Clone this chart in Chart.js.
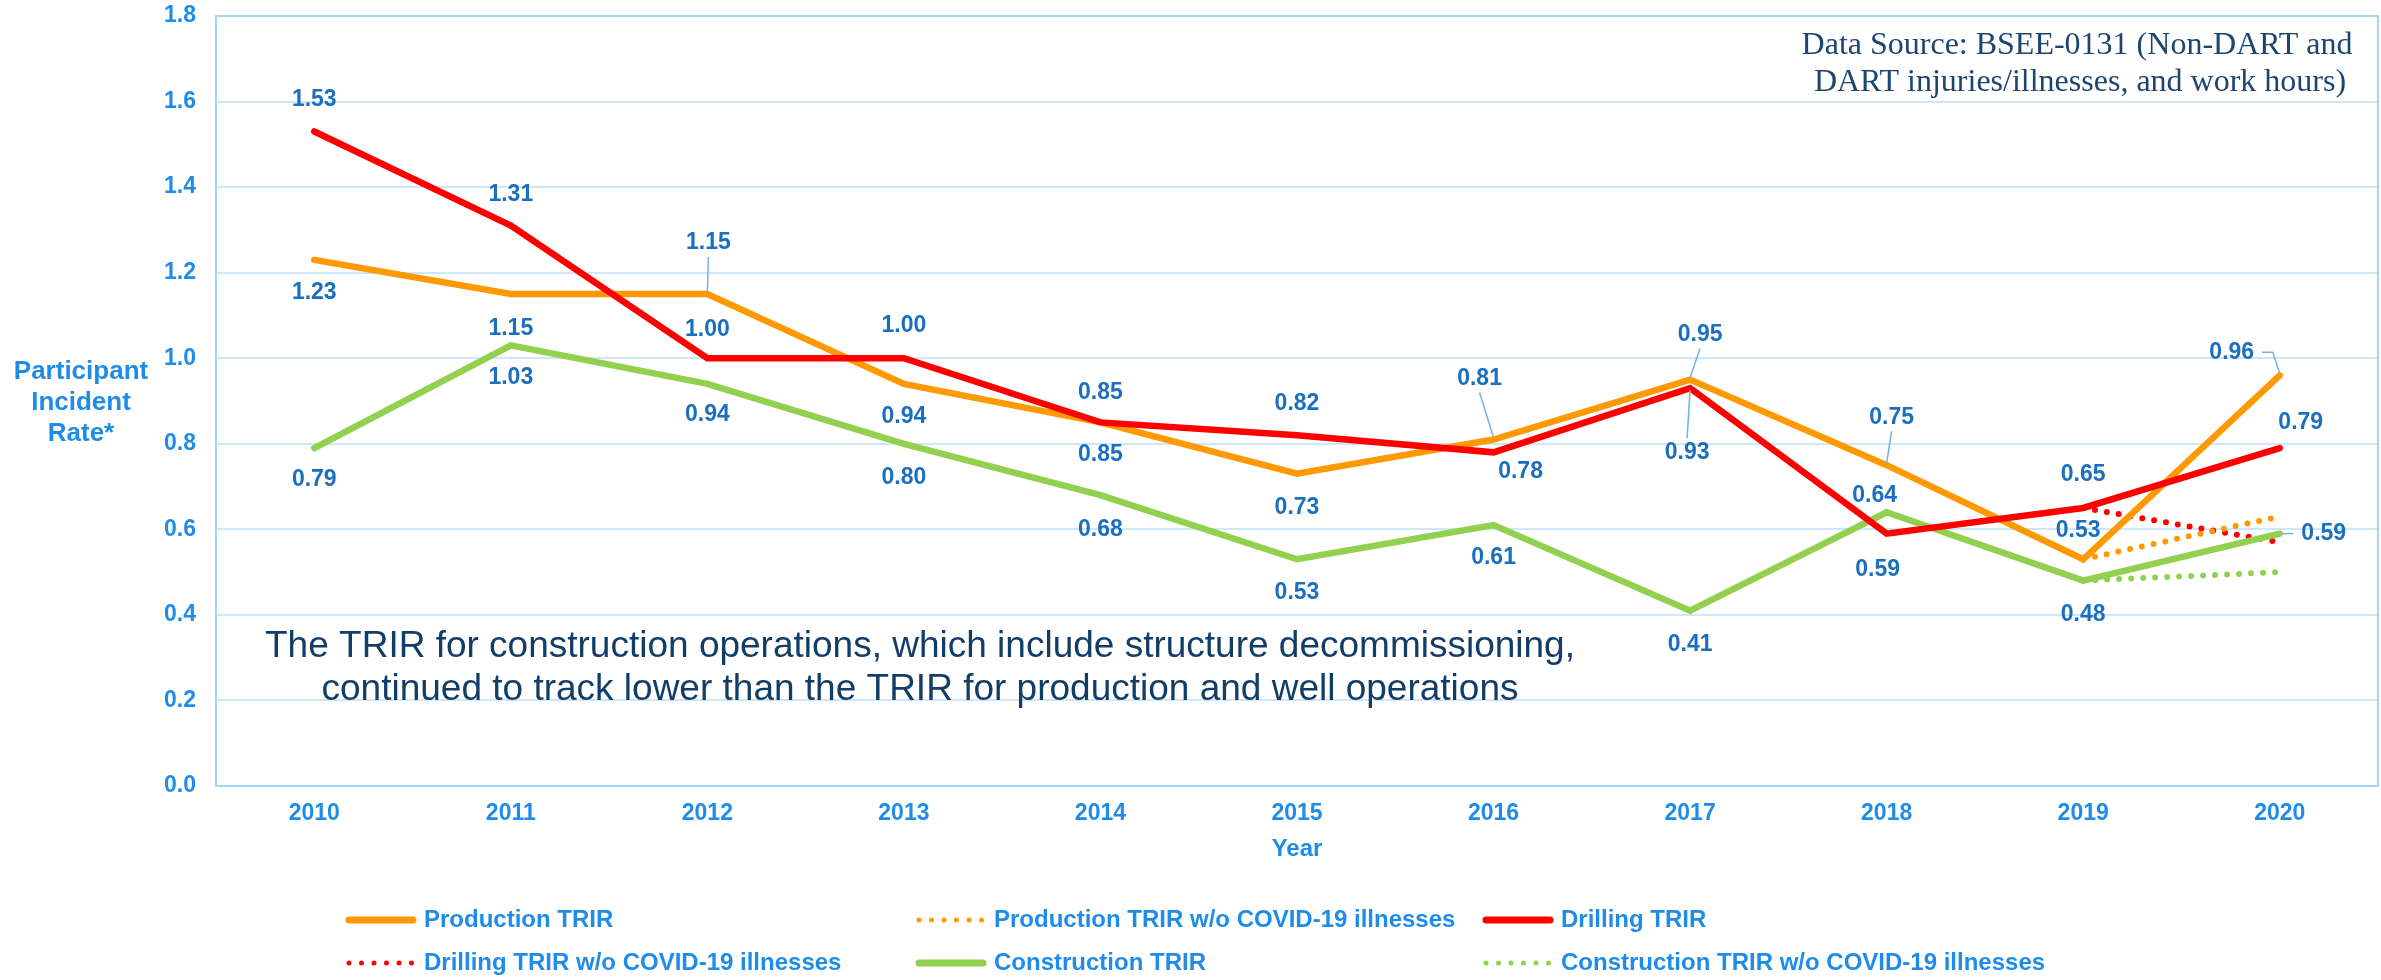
<!DOCTYPE html>
<html>
<head>
<meta charset="utf-8">
<title>TRIR by operation type, 2010-2020</title>
<script src="https://cdn.jsdelivr.net/npm/chart.js@4.4.1/dist/chart.umd.min.js"></script>
<style>
  html, body { margin: 0; padding: 0; background: #fff; }
  #wrap { width: 2381px; height: 980px; }
</style>
</head>
<body>
<div id="wrap"><canvas id="trirChart" width="2381" height="980"></canvas></div>
<script>
// values
const years = ['2010', '2011', '2012', '2013', '2014', '2015', '2016', '2017', '2018', '2019', '2020'];
const productionTrir = [1.23, 1.15, 1.15, 0.94, 0.85, 0.73, 0.81, 0.95, 0.75, 0.53, 0.96];
const productionNoCovid = [null, null, null, null, null, null, null, null, null, 0.53, 0.63];
const drillingTrir = [1.53, 1.31, 1.00, 1.00, 0.85, 0.82, 0.78, 0.93, 0.59, 0.65, 0.79];
const drillingNoCovid = [null, null, null, null, null, null, null, null, null, 0.65, 0.57];
const constructionTrir = [0.79, 1.03, 0.94, 0.80, 0.68, 0.53, 0.61, 0.41, 0.64, 0.48, 0.59];
const constructionNoCovid = [null, null, null, null, null, null, null, null, null, 0.48, 0.50];
const yTicks = [0, 0.2, 0.4, 0.6, 0.8, 1.0, 1.2, 1.4, 1.6, 1.8];

const ORANGE = '#FF9900';
const RED = '#FF0000';
const GREEN = '#92D050';
const AXIS_BLUE = '#1e8ce8';
const LABEL_BLUE = '#1a6fc0';

// where each value label sits relative to its point (px), and leader line type
const labelLayout = {
  0: {
    pos: [[0, 33], [0, 35], [1, -51], [0, 33], [0, 32], [0, 34], [-14, -61], [10, -45], [5, -48], [-5, -29], [-48, -23]],
    lead: [null, null, 'v', null, null, null, 'v', 'v', 'v', null, 'elbow']
  },
  2: {
    pos: [[0, -32], [0, -31], [0, -29], [0, -33], [0, -30], [0, -32], [27, 19], [-3, 64], [-9, 36], [0, -33], [21, -25]],
    lead: [null, null, null, null, null, null, null, 'v', null, null, null]
  },
  4: {
    pos: [[0, 32], [0, 32], [0, 31], [0, 34], [0, 35], [0, 33], [0, 33], [0, 34], [-12, -17], [0, 34], [44, 0]],
    lead: [null, null, null, null, null, null, null, null, null, null, 'h']
  }
};

const valueLabels = {
  id: 'valueLabels',
  afterDatasetsDraw(chart) {
    const ctx = chart.ctx;
    ctx.save();
    ctx.font = 'bold 23px "Liberation Sans", Arial, sans-serif';
    ctx.textAlign = 'center';
    ctx.textBaseline = 'middle';
    Object.keys(labelLayout).forEach(key => {
      const i = Number(key);
      const layout = labelLayout[i];
      const meta = chart.getDatasetMeta(i);
      const values = chart.data.datasets[i].data;
      meta.data.forEach((pt, j) => {
        if (values[j] == null) return;
        const dx = layout.pos[j][0], dy = layout.pos[j][1];
        const cx = pt.x + dx, cy = pt.y + dy;
        const text = values[j].toFixed(2);
        const w = ctx.measureText(text).width;
        const lead = layout.lead[j];
        if (lead) {
          ctx.strokeStyle = '#6fb3ec';
          ctx.lineWidth = 1.5;
          ctx.beginPath();
          if (lead === 'v') {
            ctx.moveTo(cx, cy + (dy < 0 ? 14 : -14));
            ctx.lineTo(pt.x, pt.y + (dy < 0 ? -2 : 2));
          } else if (lead === 'elbow') {
            ctx.moveTo(cx + w / 2 + 8, cy);
            ctx.lineTo(pt.x - 7, cy);
            ctx.lineTo(pt.x, pt.y - 2);
          } else if (lead === 'h') {
            ctx.moveTo(cx - w / 2 - 8, cy);
            ctx.lineTo(pt.x + 2, pt.y);
          }
          ctx.stroke();
        }
        ctx.fillStyle = LABEL_BLUE;
        ctx.fillText(text, cx, cy);
      });
    });
    ctx.restore();
  }
};

// plot frame, y title, notes and the 3-column legend
const extras = {
  id: 'extras',
  beforeDatasetsDraw(chart) {
    const {ctx, chartArea: a} = chart;
    ctx.save();
    ctx.strokeStyle = '#a6d4f7';
    ctx.lineWidth = 2;
    ctx.strokeRect(a.left, a.top, a.right - a.left, a.bottom - a.top);
    ctx.restore();
  },
  afterDraw(chart) {
    const ctx = chart.ctx;
    ctx.save();

    ctx.fillStyle = AXIS_BLUE;
    ctx.font = 'bold 26px "Liberation Sans", Arial, sans-serif';
    ctx.textAlign = 'center';
    ctx.textBaseline = 'middle';
    ['Participant', 'Incident', 'Rate*'].forEach((t, k) => ctx.fillText(t, 81, 372 + k * 31));

    ctx.fillStyle = '#113d66';
    ctx.font = '37px "Liberation Sans", Arial, sans-serif';
    ctx.fillText('The TRIR for construction operations, which include structure decommissioning,', 920, 647);
    ctx.fillText('continued to track lower than the TRIR for production and well operations', 920, 690);

    ctx.fillStyle = '#1c4570';
    ctx.font = '32px "Liberation Serif", "Times New Roman", serif';
    ctx.fillText('Data Source: BSEE-0131 (Non-DART and', 2077, 46);
    ctx.fillText('DART injuries/illnesses, and work hours)', 2080, 83);

    const cols = [346, 916, 1483];
    const rows = [920, 963];
    ctx.font = 'bold 24px "Liberation Sans", Arial, sans-serif';
    ctx.textAlign = 'left';
    chart.data.datasets.forEach((ds, i) => {
      const x = cols[i % 3], y = rows[Math.floor(i / 3)];
      const dotted = Array.isArray(ds.borderDash);
      ctx.strokeStyle = ds.borderColor;
      ctx.lineCap = 'round';
      ctx.lineWidth = dotted ? 5 : 7;
      ctx.setLineDash(dotted ? [0, 12.5] : []);
      ctx.beginPath();
      ctx.moveTo(x + 3, y);
      ctx.lineTo(x + (dotted ? 66 : 67), y);
      ctx.stroke();
      ctx.setLineDash([]);
      ctx.fillStyle = AXIS_BLUE;
      ctx.fillText(ds.label, x + 78, y);
    });
    ctx.restore();
  }
};

function solid(label, data, color, order) {
  return { label, data, borderColor: color, backgroundColor: color, borderWidth: 6.5,
    borderCapStyle: 'round', pointRadius: 0, tension: 0, order };
}
function dotted(label, data, color) {
  return { label, data, borderColor: color, backgroundColor: color, borderWidth: 6,
    borderDash: [0, 12], borderCapStyle: 'round', pointRadius: 0, tension: 0, order: 3, spanGaps: false };
}

new Chart(document.getElementById('trirChart').getContext('2d'), {
  type: 'line',
  data: {
    labels: years,
    datasets: [
      solid('Production TRIR', productionTrir, ORANGE, 1),
      dotted('Production TRIR w/o COVID-19 illnesses', productionNoCovid, ORANGE),
      solid('Drilling TRIR', drillingTrir, RED, 0),
      dotted('Drilling TRIR w/o COVID-19 illnesses', drillingNoCovid, RED),
      solid('Construction TRIR', constructionTrir, GREEN, 2),
      dotted('Construction TRIR w/o COVID-19 illnesses', constructionNoCovid, GREEN)
    ]
  },
  options: {
    responsive: false,
    animation: false,
    devicePixelRatio: 1,
    layout: { padding: { top: 0, right: 3, bottom: 84, left: 0 } },
    plugins: { legend: { display: false }, tooltip: { enabled: false } },
    scales: {
      x: {
        offset: true,
        grid: { display: false },
        border: { display: false },
        ticks: { color: AXIS_BLUE, padding: 6, font: { family: '"Liberation Sans", Arial', size: 23, weight: 'bold' } },
        title: { display: true, text: 'Year', color: AXIS_BLUE, padding: { top: 0, bottom: 32 },
          font: { family: '"Liberation Sans", Arial', size: 24, weight: 'bold' } },
        afterFit(scale) { scale.height = 110; }
      },
      y: {
        min: 0,
        max: 1.8,
        afterBuildTicks(scale) { scale.ticks = yTicks.map(v => ({ value: v })); },
        grid: { color: '#cfe7fa', lineWidth: 2, drawTicks: false },
        border: { display: false },
        ticks: { color: AXIS_BLUE, padding: 20, callback: v => Number(v).toFixed(1),
          font: { family: '"Liberation Sans", Arial', size: 23, weight: 'bold' } },
        afterFit(scale) { scale.width = 216; scale.paddingTop = 16; }
      }
    }
  },
  plugins: [extras, valueLabels]
});
</script>
</body>
</html>
